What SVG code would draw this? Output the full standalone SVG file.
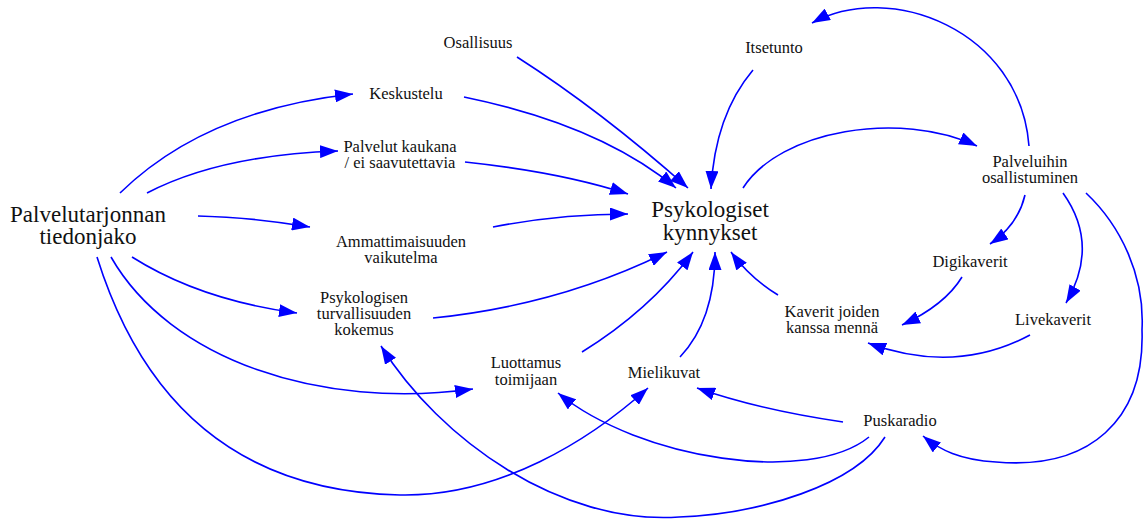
<svg xmlns="http://www.w3.org/2000/svg" width="1145" height="519" viewBox="0 0 1145 519">
  <defs>
    <marker id="ah" markerUnits="userSpaceOnUse" markerWidth="18" markerHeight="13" refX="18" refY="6.5" orient="auto" viewBox="0 0 18 13">
      <path d="M0,0 L18,6.5 L0,13 z" fill="#0000ff"/>
    </marker>
    <style>
      .lbl { font-family: "Liberation Serif", "Times New Roman", serif; font-size: 16.5px; fill: #111; text-anchor: middle; }
      .big { font-family: "Liberation Serif", "Times New Roman", serif; font-size: 23px; fill: #111; text-anchor: middle; }
      .edge { fill: none; stroke: #0000ff; stroke-width: 1.6; marker-end: url(#ah); }
    </style>
  </defs>
  <rect width="1145" height="519" fill="#ffffff"/>

  <g id="connectors">
    <!-- from Palvelutarjonnan tiedonjako -->
    <path class="edge" d="M120,193 Q205,110 353,94"/>
    <path class="edge" d="M147,193 Q220,155 338,151"/>
    <path class="edge" d="M198,216 Q250,217 310,227"/>
    <path class="edge" d="M132,257 Q200,300 297,313"/>
    <path class="edge" d="M111,257 C170,360 320,410 473,389"/>
    <path class="edge" d="M97,257 Q170,490 400,495 C500,497 590,440 648,388"/>
    <!-- into Psykologiset kynnykset -->
    <path class="edge" d="M517,57 Q600,110 688,188"/>
    <path class="edge" d="M464,97 Q600,125 676,188"/>
    <path class="edge" d="M465,162 Q560,172 628,194"/>
    <path class="edge" d="M493,227 Q560,214 628,214"/>
    <path class="edge" d="M433,318 Q560,305 667,252"/>
    <path class="edge" d="M582,352 Q650,310 693,252"/>
    <path class="edge" d="M680,357 Q715,320 715,252"/>
    <path class="edge" d="M778,295 Q750,278 731,252"/>
    <path class="edge" d="M753,70 Q715,115 711,189"/>
    <!-- participation loop -->
    <path class="edge" d="M743,188 C780,130 900,110 977,146"/>
    <path class="edge" d="M1029,146 C1020,30 890,-20 812,23"/>
    <path class="edge" d="M1025,195 Q1018,225 990,244"/>
    <path class="edge" d="M1063,193 Q1100,245 1066,303"/>
    <path class="edge" d="M1086,193 C1120,225 1145,275 1142,330 C1145,420 1090,470 996,462 C960,460 940,450 923,436"/>
    <path class="edge" d="M962,277 Q945,305 902,325"/>
    <path class="edge" d="M1030,335 Q955,375 868,343"/>
    <!-- from Puskaradio -->
    <path class="edge" d="M843,422 Q760,410 697,388"/>
    <path class="edge" d="M869,437 C810,485 640,460 558,393"/>
    <path class="edge" d="M885,437 C855,485 760,514 679,517 C560,525 440,440 381,346"/>
  </g>

  <g id="palvelutarjonnan-tiedonjako">
    <text class="big" x="88" y="222">Palvelutarjonnan</text>
    <text class="big" x="88" y="244">tiedonjako</text>
  </g>
  <g id="psykologiset-kynnykset">
    <text class="big" x="710" y="217">Psykologiset</text>
    <text class="big" x="710" y="240">kynnykset</text>
  </g>
  <g id="osallisuus">
    <text class="lbl" x="478" y="48">Osallisuus</text>
  </g>
  <g id="keskustelu">
    <text class="lbl" x="406" y="99">Keskustelu</text>
  </g>
  <g id="palvelut-kaukana">
    <text class="lbl" x="400" y="152">Palvelut kaukana</text>
    <text class="lbl" x="400" y="168">/ ei saavutettavia</text>
  </g>
  <g id="ammattimaisuuden-vaikutelma">
    <text class="lbl" x="401" y="247">Ammattimaisuuden</text>
    <text class="lbl" x="401" y="263">vaikutelma</text>
  </g>
  <g id="psykologisen-turvallisuuden-kokemus">
    <text class="lbl" x="364" y="303">Psykologisen</text>
    <text class="lbl" x="364" y="319">turvallisuuden</text>
    <text class="lbl" x="364" y="335">kokemus</text>
  </g>
  <g id="luottamus-toimijaan">
    <text class="lbl" x="526" y="368">Luottamus</text>
    <text class="lbl" x="526" y="385">toimijaan</text>
  </g>
  <g id="mielikuvat">
    <text class="lbl" x="664" y="378">Mielikuvat</text>
  </g>
  <g id="puskaradio">
    <text class="lbl" x="900" y="426">Puskaradio</text>
  </g>
  <g id="itsetunto">
    <text class="lbl" x="774" y="53">Itsetunto</text>
  </g>
  <g id="palveluihin-osallistuminen">
    <text class="lbl" x="1030" y="167">Palveluihin</text>
    <text class="lbl" x="1030" y="183">osallistuminen</text>
  </g>
  <g id="digikaverit">
    <text class="lbl" x="970" y="267">Digikaverit</text>
  </g>
  <g id="livekaverit">
    <text class="lbl" x="1053" y="325">Livekaverit</text>
  </g>
  <g id="kaverit-joiden-kanssa-menna">
    <text class="lbl" x="832" y="317">Kaverit joiden</text>
    <text class="lbl" x="832" y="333">kanssa mennä</text>
  </g>
</svg>
